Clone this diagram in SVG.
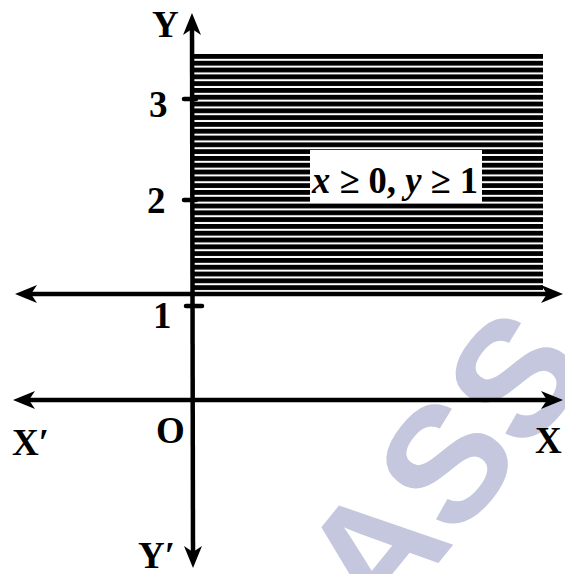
<svg xmlns="http://www.w3.org/2000/svg" width="565" height="574" viewBox="0 0 565 574">
<style>
.ax{stroke:#000;stroke-width:4.5;fill:none}
.tk{stroke:#000;stroke-width:4.5;stroke-linecap:round}
.lb{font-family:"Liberation Serif","Times New Roman",serif;font-weight:bold;font-size:37px;fill:#000}
.wm{font-family:"Liberation Sans",Arial,sans-serif;font-weight:bold;font-size:165px;fill:#c4c7dd}
</style>
<defs>
<pattern id="hatch" patternUnits="userSpaceOnUse" x="0" y="54" width="20" height="6.8">
<rect x="0" y="0" width="20" height="4.8" fill="#000"/>
</pattern>
<marker id="arr" markerUnits="userSpaceOnUse" viewBox="-14 -10 26 20" refX="0" refY="0" markerWidth="26" markerHeight="20" orient="auto-start-reverse">
<path d="M10,0 L-12,-9 L-6,0 L-12,9 Z" fill="#000"/>
</marker>
</defs>
<rect width="565" height="574" fill="#fff"/>
<g id="watermark">
<text class="wm" transform="translate(381,634) rotate(-51)">ASS</text>
</g>
<g id="region">
<rect x="192" y="54" width="351" height="240" fill="url(#hatch)"/>
</g>
<g id="connectors">
<line id="x-axis" class="ax" x1="23" y1="400" x2="553" y2="400" stroke-width="5" marker-start="url(#arr)" marker-end="url(#arr)"/>
<line id="y1-line" class="ax" x1="25" y1="294" x2="553" y2="294" stroke-width="5" marker-start="url(#arr)" marker-end="url(#arr)"/>
<line id="y-axis" class="ax" x1="192" y1="23" x2="193" y2="558" marker-start="url(#arr)" marker-end="url(#arr)"/>
<line class="tk" x1="184" y1="99" x2="196" y2="99"/>
<line class="tk" x1="184" y1="200" x2="196" y2="200"/>
<line class="tk" x1="186" y1="306" x2="202" y2="306"/>
</g>
<g id="labels">
<text class="lb" x="152" y="37">Y</text>
<text class="lb" x="138" y="568">Y′</text>
<text class="lb" x="12" y="455">X′</text>
<text class="lb" x="535" y="453">X</text>
<text class="lb" x="156" y="443">O</text>
<text class="lb" x="149" y="117">3</text>
<text class="lb" x="147" y="213">2</text>
<text class="lb" x="153" y="328">1</text>
</g>
<g id="label-box">
<rect x="310" y="150" width="172" height="53" fill="#fff"/>
<text class="lb" x="312" y="193" font-size="40" textLength="166" lengthAdjust="spacingAndGlyphs"><tspan font-style="italic">x</tspan> ≥ 0, <tspan font-style="italic">y</tspan> ≥ 1</text>
</g>
</svg>
